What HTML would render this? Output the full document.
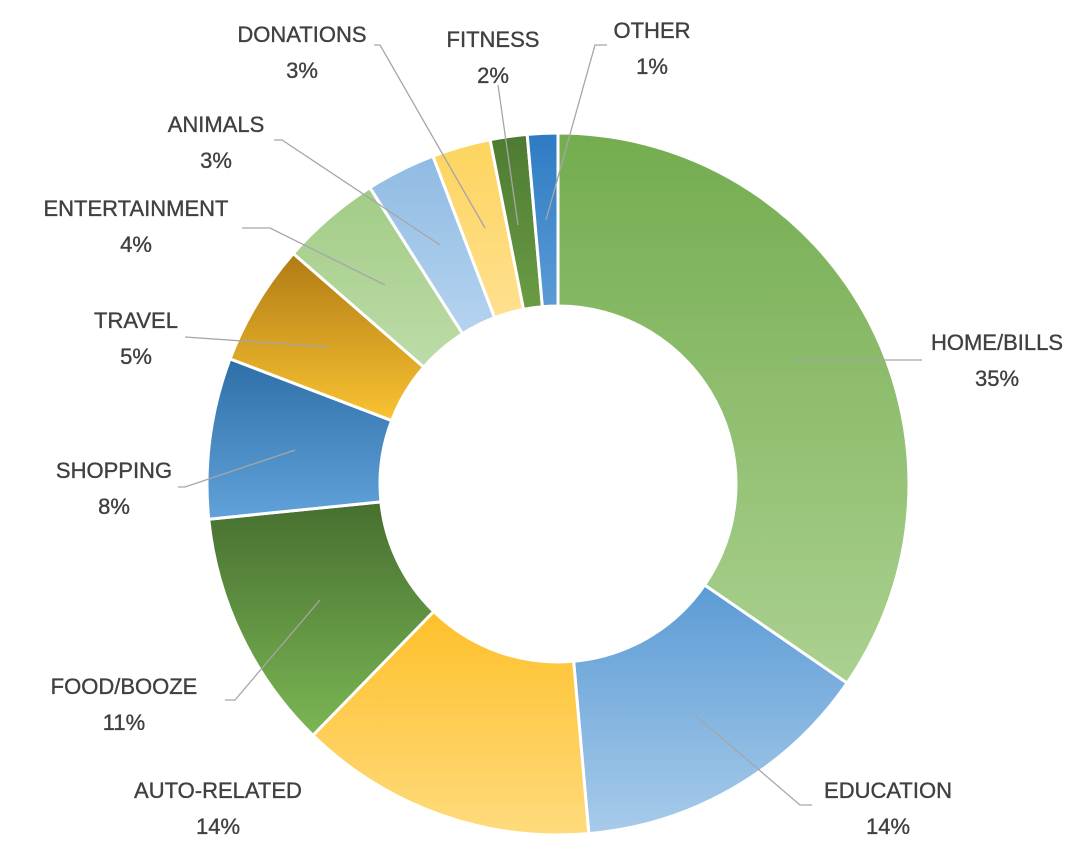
<!DOCTYPE html>
<html><head><meta charset="utf-8">
<style>
html,body{margin:0;padding:0;background:#fff;}
svg{display:block;}
text{font-family:"Liberation Sans",sans-serif;font-size:22px;fill:#404040;text-anchor:middle;stroke:#404040;stroke-width:0.35;}
</style></head>
<body>
<svg id="chart" width="1080" height="864" viewBox="0 0 1080 864">
<defs id="defs"></defs>
<g id="slices"></g>
<g id="leaders"></g>
<g id="labels"></g>
</svg>
<script>
const categories = ["HOME/BILLS","EDUCATION","AUTO-RELATED","FOOD/BOOZE","SHOPPING","TRAVEL","ENTERTAINMENT","ANIMALS","DONATIONS","FITNESS","OTHER"];
const values = [34.6,14.0,13.7,11.1,7.4,5.6,4.6,3.2,2.7,1.7,1.4];
const percentLabels = ["35%","14%","14%","11%","8%","5%","4%","3%","3%","2%","1%"];
const colorsTop = ["#74ac4f","#5b9bd5","#fec02a","#466f2f","#2e6fa8","#b07b14","#a2cc86","#8fbbe3","#fdd45e","#4d7a31","#2e7bc4"];
const colorsBottom = ["#abd190","#a8cbea","#fedb7c","#7bb654","#62a2da","#f9c332","#bddca8","#b5d3ef","#ffe08f","#6a9c45","#5b9bd5"];
const labelPos = [[997,342],[888,790],[218,790],[124,686],[114,470],[136,320],[136,208],[216,124],[302,34],[493,39],[652,30]];
const leaderPts = [
 [[795,360],[922,360]],
 [[695,715],[800,805],[812,805]],
 null,
 [[320,600],[235,700],[225,700]],
 [[295,450],[185,487],[178,487]],
 [[330,347],[185,337]],
 [[385,285],[270,228],[242,228]],
 [[440,245],[282,140],[274,140]],
 [[485,228],[380,45],[374,45]],
 [[518,225],[498,85]],
 [[546,220],[595,45],[607,45]]
];
const cx=558, cy=484, R=351, r=178;
const NS="http://www.w3.org/2000/svg";
const defs=document.getElementById('defs');
const gS=document.getElementById('slices'), gL=document.getElementById('leaders'), gT=document.getElementById('labels');
const total=values.reduce((a,b)=>a+b,0);
function pt(a,rad){return [cx+rad*Math.sin(a), cy-rad*Math.cos(a)];}
let acc=0;
values.forEach((v,i)=>{
  const a0=acc/total*2*Math.PI; acc+=v; const a1=acc/total*2*Math.PI;
  const lg=document.createElementNS(NS,'linearGradient');
  lg.setAttribute('id','g'+i);lg.setAttribute('x1','0');lg.setAttribute('y1','0');lg.setAttribute('x2','0');lg.setAttribute('y2','1');
  lg.innerHTML=`<stop offset="0" stop-color="${colorsTop[i]}"/><stop offset="1" stop-color="${colorsBottom[i]}"/>`;
  defs.appendChild(lg);
  const large=(a1-a0)>Math.PI?1:0;
  const p0=pt(a0,R),p1=pt(a1,R),q1=pt(a1,r),q0=pt(a0,r);
  const p=document.createElementNS(NS,'path');
  p.setAttribute('d',`M${p0[0]},${p0[1]} A${R},${R} 0 ${large} 1 ${p1[0]},${p1[1]} L${q1[0]},${q1[1]} A${r},${r} 0 ${large} 0 ${q0[0]},${q0[1]} Z`);
  p.setAttribute('fill',`url(#g${i})`);p.setAttribute('stroke','#fff');p.setAttribute('stroke-width','3');
  
  
  gS.appendChild(p);
  if(leaderPts[i]){
    const l=document.createElementNS(NS,'polyline');
    l.setAttribute('points',leaderPts[i].map(q=>q.join(',')).join(' '));
    l.setAttribute('fill','none');l.setAttribute('stroke','#a6a6a6');l.setAttribute('stroke-width','1.3');
    
    
    gL.appendChild(l);
  }
  const t=document.createElementNS(NS,'text');
  t.setAttribute('x',labelPos[i][0]);t.setAttribute('y',labelPos[i][1]+8);
  t.textContent=categories[i];
  
  
  gT.appendChild(t);
  const t2=document.createElementNS(NS,'text');
  t2.setAttribute('x',labelPos[i][0]);t2.setAttribute('y',labelPos[i][1]+44);
  t2.textContent=percentLabels[i];
  
  
  gT.appendChild(t2);
});
</script>
</body></html>
